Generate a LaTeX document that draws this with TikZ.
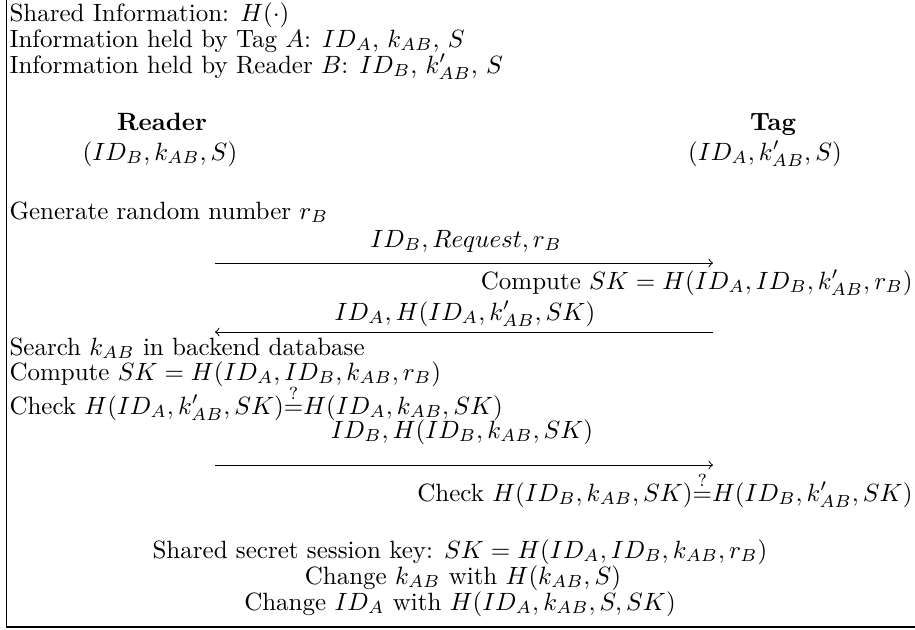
\documentclass[tikz,border=0pt]{standalone}
\usepackage{amsmath}
\begin{document}
\begin{tikzpicture}[x=0.4pt,y=-0.4pt,
  lefttext/.style={anchor=base west,inner sep=0pt},
  righttext/.style={anchor=base east,inner sep=0pt},
  midtext/.style={anchor=base,inner sep=0pt},
  frameline/.style={line width=0.45pt},
  msg/.style={line width=0.4pt}]
\useasboundingbox (0,0) rectangle (915,629);
% frame (left and bottom sides visible)
\coordinate (ftop) at (6.5,-3);
\coordinate (fcorner) at (6.5,627);
\coordinate (fright) at (918,627);
\draw[frameline] (ftop) -- (fcorner) -- (fright);
% header
\node[lefttext] (l1) at (9,21) {Shared Information: $H(\cdot)$};
\node[lefttext] (l2) at (9,47) {Information held by Tag $A$: $ID_A$, $k_{AB}$, $S$};
\node[lefttext] (l3) at (9,73) {Information held by Reader $B$: $ID_B$, $k'_{AB}$, $S$};
% parties
\node[midtext] (reader) at (162,130) {\textbf{Reader}};
\node[midtext] (readerinfo) at (160,160) {$(ID_B, k_{AB}, S)$};
\node[midtext] (tag) at (773,130) {\textbf{Tag}};
\node[midtext] (taginfo) at (765,160) {$(ID_A, k'_{AB}, S)$};
% step 1
\node[lefttext] (gen) at (9,219) {Generate random number $r_B$};
\node[midtext] (m1) at (466,247) {$ID_B, Request, r_B$};
\coordinate (a1s) at (215,263);
\coordinate (a1e) at (713,263);
\draw[msg,->] (a1s) -- (a1e);
\node[righttext] (comp1) at (913,289) {Compute $SK = H(ID_A, ID_B, k'_{AB}, r_B)$};
% step 2
\node[midtext] (m2) at (465,320) {$ID_A, H(ID_A, k'_{AB}, SK)$};
\coordinate (a2s) at (713,332);
\coordinate (a2e) at (215,332);
\draw[msg,->] (a2s) -- (a2e);
\node[lefttext] (search) at (9,355) {Search $k_{AB}$ in backend database};
\node[lefttext] (comp2) at (9,380) {Compute $SK = H(ID_A, ID_B, k_{AB}, r_B)$};
\node[lefttext] (check1) at (9,414) {Check $H(ID_A, k'_{AB}, SK){\stackrel{?}{=}}H(ID_A, k_{AB}, SK)$};
% step 3
\node[midtext] (m3) at (462,438) {$ID_B, H(ID_B, k_{AB}, SK)$};
\coordinate (a3s) at (215,465);
\coordinate (a3e) at (713,465);
\draw[msg,->] (a3s) -- (a3e);
\node[righttext] (check2) at (913,501) {Check $H(ID_B, k_{AB}, SK){\stackrel{?}{=}}H(ID_B, k'_{AB}, SK)$};
% result
\node[midtext] (sk) at (460,558) {Shared secret session key: $SK = H(ID_A, ID_B, k_{AB}, r_B)$};
\node[midtext] (chk) at (463,584) {Change $k_{AB}$ with $H(k_{AB}, S)$};
\node[midtext] (chid) at (460,610) {Change $ID_A$ with $H(ID_A, k_{AB}, S, SK)$};
\end{tikzpicture}
\end{document}
